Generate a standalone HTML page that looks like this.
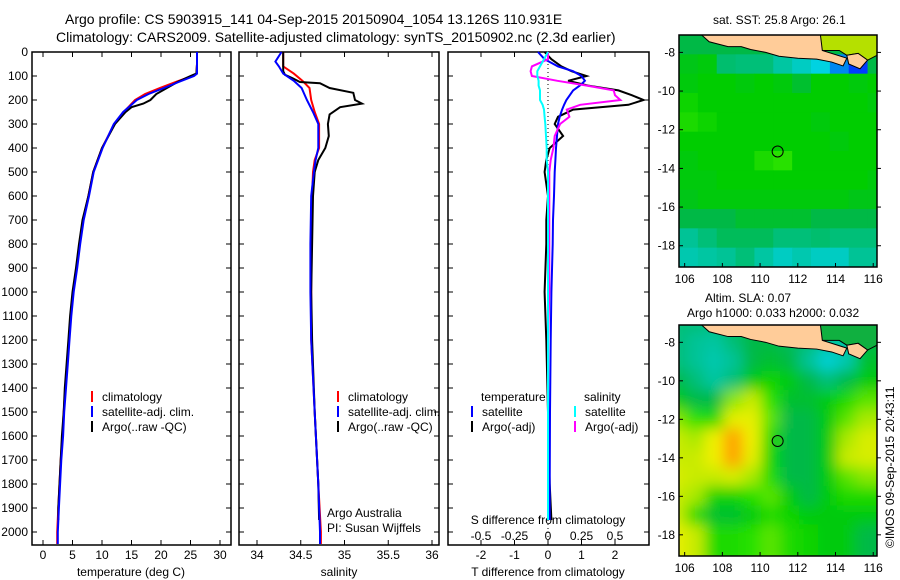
<!DOCTYPE html>
<html><head><meta charset="utf-8"><style>
html,body{margin:0;padding:0;background:#fff}
svg{display:block;font-family:"Liberation Sans",sans-serif}
</style></head><body>
<svg id="c" width="900" height="580" viewBox="0 0 900 580">
<text x="65" y="24" font-size="14">Argo profile: CS 5903915_141 04-Sep-2015 20150904_1054 13.126S 110.931E</text>
<text x="56" y="42" font-size="14">Climatology: CARS2009. Satellite-adjusted climatology: synTS_20150902.nc (2.3d earlier)</text>
<text x="713" y="24" font-size="12">sat. SST: 25.8 Argo: 26.1</text>
<text x="705" y="302" font-size="12">Altim. SLA: 0.07</text>
<text x="687" y="317" font-size="12">Argo h1000: 0.033 h2000: 0.032</text>
<text transform="translate(894,548) rotate(-90)" font-size="12">©IMOS 09-Sep-2015 20:43:11</text>
<g id="g"></g>
</svg>
<script>
// ---- data ----
const tDepth = [0,50,90,100,125,150,175,200,250,300,400,500,600,700,800,900,1000,1100,1200,1300,1400,1500,1600,1700,1800,1900,2000,2050];
const tClim  = [26.1,26.1,26.0,25.3,22.5,19.8,17.3,15.6,13.7,12.1,10.0,8.5,7.7,6.8,6.2,5.7,5.1,4.7,4.4,4.1,3.8,3.5,3.3,3.0,2.8,2.6,2.4,2.4];
const tSat   = [26.1,26.1,26.1,25.6,23.0,20.5,17.9,15.9,13.6,12.0,10.1,8.6,7.8,6.9,6.3,5.8,5.2,4.8,4.5,4.2,3.9,3.6,3.4,3.1,2.9,2.7,2.5,2.5];
const argoDepth = [0,50,90,100,125,150,175,200,215,230,250,300,400,500,600,700,800,900,1000,1100,1200,1300,1400,1500,1600,1700,1800,1900,1950];
const tArgo  = [26.1,26.1,26.0,25.0,22.8,21.0,19.2,18.2,17.0,15.0,14.0,12.2,10.0,8.5,7.7,6.7,6.1,5.6,5.0,4.6,4.3,4.0,3.7,3.5,3.2,3.0,2.8,2.6,2.6];
const sDepth = [0,40,60,90,120,150,200,250,300,400,450,500,600,800,1000,1200,1500,1800,2000,2050];
const sClim  = [34.30,34.30,34.30,34.42,34.52,34.60,34.62,34.66,34.71,34.71,34.66,34.64,34.63,34.62,34.62,34.62,34.66,34.70,34.73,34.73];
const sSat   = [34.28,34.21,34.25,34.30,34.42,34.51,34.57,34.64,34.70,34.70,34.67,34.65,34.62,34.61,34.61,34.62,34.66,34.70,34.72,34.72];
const sArgoDepth = [0,80,95,110,125,130,150,170,200,215,230,260,300,350,400,450,500,600,800,1000,1200,1500,1800,1950];
const sArgo  = [34.30,34.30,34.32,34.41,34.49,34.72,34.83,35.10,35.12,35.20,34.95,34.83,34.81,34.82,34.78,34.70,34.66,34.64,34.63,34.62,34.63,34.66,34.70,34.71];
const dDepth = [0,30,60,80,100,120,140,160,180,200,220,240,270,300,350,400,450,500,600,700,800,1000,1200,1500,1800,1950];
const dTSat  = [-0.3,-0.1,0.3,0.75,1.0,1.1,0.95,0.75,0.65,0.55,0.48,0.42,0.35,0.3,0.27,0.24,0.22,0.2,0.18,0.15,0.14,0.1,0.08,0.06,0.05,0.05];
const dTArgo = [-0.1,0.1,0.4,0.7,1.15,0.6,1.2,2.1,2.5,2.85,2.4,0.75,0.3,0.2,0.45,0.05,-0.05,-0.1,0.0,-0.05,-0.05,-0.1,-0.05,0.0,0.05,0.1];
const dSSat  = [0.0,-0.03,-0.06,-0.08,-0.08,-0.07,-0.07,-0.06,-0.06,-0.06,-0.04,-0.03,-0.025,-0.02,-0.015,-0.01,-0.01,0,0,0,0,0,0,0,0,0];
const dSArgo = [0.0,0.0,-0.12,-0.13,-0.12,0.07,0.29,0.49,0.5,0.54,0.24,0.14,0.16,0.09,0.05,0.04,0.02,0.01,0.01,0.01,0.01,0.01,0.0,0.0,0.0,0.0];
const depthTicks = [0,100,200,300,400,500,600,700,800,900,1000,1100,1200,1300,1400,1500,1600,1700,1800,1900,2000];
const tempTicks = [0,5,10,15,20,25,30];
const salTicks = [34,34.5,35,35.5,36];
const dtTicks = [-2,-1,0,1,2];
const dsTickLabels = ["-0.5","-0.25","0","0.25","0.5"];
const dsTicks = [-0.5,-0.25,0,0.25,0.5];
const lonTicks = [106,108,110,112,114,116];
const latTicks = [-8,-10,-12,-14,-16,-18];
const sstGrid = [
[.50,.50,.50,.50,.50,.50,.50,.50,.50,.50,.65],
[.54,.55,.46,.45,.45,.40,.35,.30,.25,.20,.50],
[.55,.56,.56,.55,.56,.55,.52,.56,.56,.55,.56],
[.58,.56,.56,.56,.56,.56,.56,.56,.56,.56,.55],
[.60,.58,.56,.56,.56,.56,.56,.55,.56,.56,.56],
[.56,.56,.56,.56,.56,.56,.56,.56,.55,.56,.56],
[.55,.56,.56,.56,.60,.62,.56,.56,.56,.56,.56],
[.55,.55,.56,.56,.56,.56,.56,.56,.56,.56,.55],
[.54,.55,.55,.55,.55,.55,.55,.55,.55,.54,.54],
[.50,.50,.50,.52,.52,.52,.52,.50,.50,.50,.50],
[.42,.45,.48,.48,.48,.45,.45,.46,.45,.45,.45],
[.38,.40,.42,.45,.40,.35,.38,.35,.35,.42,.42]];
const slaGrid = [
[.45,.45,.45,.50,.50,.50,.50,.50,.50,.50,.50],
[.45,.42,.40,.45,.50,.50,.48,.45,.40,.40,.50],
[.45,.42,.38,.42,.50,.52,.50,.42,.32,.38,.52],
[.50,.45,.40,.45,.55,.58,.55,.50,.45,.50,.55],
[.55,.50,.50,.68,.72,.62,.52,.52,.55,.60,.65],
[.68,.62,.60,.78,.78,.65,.50,.50,.55,.65,.70],
[.72,.70,.80,.90,.80,.60,.50,.50,.55,.70,.75],
[.72,.72,.80,.90,.78,.58,.50,.50,.55,.72,.75],
[.75,.72,.72,.75,.70,.60,.50,.50,.55,.65,.68],
[.72,.70,.58,.58,.62,.65,.55,.50,.55,.60,.60],
[.72,.60,.52,.52,.55,.60,.58,.55,.55,.55,.55],
[.78,.72,.60,.60,.62,.65,.60,.58,.55,.55,.50]];
const argoLon = 110.931, argoLat = -13.126;

// ---- scales ----
const NS="http://www.w3.org/2000/svg";
const G=document.getElementById('g');
function el(tag,attrs,parent){const e=document.createElementNS(NS,tag);for(const k in attrs)e.setAttribute(k,attrs[k]);(parent||G).appendChild(e);return e;}
const yD = d => 52 + d*0.24;
const xT = t => 43 + t*5.9;
const xS = s => 257 + (s-34)*87.5;
const xDT = t => 548 + t*33.5;
const xDS = s => 548 + s*134;
const PB = 545;
function line(depths, vals, xf, color, w, name){
  const pts = depths.map((d,i)=>xf(vals[i]).toFixed(1)+','+yD(d).toFixed(1)).join(' ');
  const p = el('polyline',{points:pts,fill:'none',stroke:color,'stroke-width':w,'stroke-linejoin':'miter'});
  
  
}
function panel(x0,x1,name){
  const r = el('rect',{x:x0,y:52,width:x1-x0,height:PB-52,fill:'none',stroke:'#000','stroke-width':1.5});
  
  
  depthTicks.forEach(d=>{el('line',{x1:x0,x2:x0+5,y1:yD(d),y2:yD(d),stroke:'#000'});el('line',{x1:x1-5,x2:x1,y1:yD(d),y2:yD(d),stroke:'#000'});});
}
function xticks(vals,labels,xf,labY,name){
  vals.forEach((v,i)=>{
    const x=xf(v);
    el('line',{x1:x,x2:x,y1:PB,y2:PB-5,stroke:'#000'});
    el('line',{x1:x,x2:x,y1:52,y2:57,stroke:'#000'});
    const t=el('text',{x:x,y:labY,'font-size':12,'text-anchor':'middle'});
    t.textContent=labels[i];
    
    
  });
}
panel(32,231,'temperature-panel');
panel(239,439,'salinity-panel');
panel(448,649,'difference-panel');
depthTicks.forEach(d=>{
  const t=el('text',{x:28,y:yD(d)+4,'font-size':12,'text-anchor':'end'});
  t.textContent=d;
  
  
});
xticks(tempTicks,tempTicks.map(String),xT,559,'temp-tick-label');
xticks(salTicks,salTicks.map(String),xS,559,'salinity-tick-label');
xticks(dtTicks,dtTicks.map(String),xDT,559,'t-diff-tick-label');
dsTicks.forEach((v,i)=>{
  const t=el('text',{x:xDS(v),y:540,'font-size':12,'text-anchor':'middle'});
  t.textContent=dsTickLabels[i];
  
  
});
function label(x,y,s,name,anchor){const t=el('text',{x:x,y:y,'font-size':12,'text-anchor':anchor||'start'});t.textContent=s;return t;}
label(131,576,'temperature (deg C)','temp-axis-title','middle');
label(339,576,'salinity','salinity-axis-title','middle');
label(548,576,'T difference from climatology','t-diff-axis-title','middle');
label(548,524,'S difference from climatology','s-diff-axis-title','middle');
label(327,517,'Argo Australia','credit-line-1');
label(327,532,'PI: Susan Wijffels','credit-line-2');
el('line',{x1:548,x2:548,y1:52,y2:PB,stroke:'#000','stroke-dasharray':'1,3'});
line(tDepth,tClim,xT,'#f00',2,'temp-climatology-line');
line(argoDepth,tArgo,xT,'#000',2,'temp-argo-line');
line(tDepth,tSat,xT,'#00f',2,'temp-satellite-line');
line(sDepth,sClim,xS,'#f00',2,'sal-climatology-line');
line(sArgoDepth,sArgo,xS,'#000',2,'sal-argo-line');
line(sDepth,sSat,xS,'#00f',2,'sal-satellite-line');
line(dDepth,dTArgo,xDT,'#000',2,'t-diff-argo-line');
line(dDepth,dTSat,xDT,'#00f',2,'t-diff-satellite-line');
line(dDepth,dSArgo,xDS,'#f0f',2,'s-diff-argo-line');
line(dDepth,dSSat,xDS,'#0ff',2,'s-diff-satellite-line');
function leg(x,y,c,s,name){el('line',{x1:x,x2:x,y1:y-10,y2:y+1,stroke:c,'stroke-width':2});label(x+10,y,s,name);}
[[92,'climatology','#f00'],[92,'satellite-adj. clim.','#00f'],[92,'Argo(..raw -QC)','#000']].forEach((a,i)=>leg(a[0],401+i*15,a[2],a[1],'temp-legend-entry'));
[[338,'climatology','#f00'],[338,'satellite-adj. clim.','#00f'],[338,'Argo(..raw -QC)','#000']].forEach((a,i)=>leg(a[0],401+i*15,a[2],a[1],'sal-legend-entry'));
label(481,401,'temperature','t-legend-title');
label(584,401,'salinity','s-legend-title');
leg(472,416,'#00f','satellite','t-legend-satellite');
leg(472,431,'#000','Argo(-adj)','t-legend-argo');
leg(575,416,'#0ff','satellite','s-legend-satellite');
leg(575,431,'#f0f','Argo(-adj)','s-legend-argo');

// ---- maps ----
const cmapStops=[[0.2,[0,60,255]],[0.3,[0,210,225]],[0.42,[0,195,150]],[0.5,[0,185,70]],[0.56,[0,205,0]],[0.62,[40,225,0]],[0.72,[200,235,0]],[0.8,[240,240,0]],[0.9,[255,160,0]],[1,[255,60,0]]];
function cmap(v){for(let i=1;i<cmapStops.length;i++){const [a,ca]=cmapStops[i-1],[b,cb]=cmapStops[i];if(v<=b){const f=Math.max(0,(v-a)/(b-a));return 'rgb('+ca.map((c,k)=>Math.round(c+(cb[k]-c)*f)).join(',')+')';}}return 'rgb(255,60,0)';}
function map(top,bot,grid,name,blur,eastColor){
  const L=679,R=877,lon0=105.7,lon1=116.2,lat0=-7.1,lat1=-19.1;
  const xL=lon=>L+(lon-lon0)*(R-L)/(lon1-lon0);
  const yL=lat=>top+(lat0-lat)*(bot-top)/(lat0-lat1);
  const clipId='clip'+name;
  const defs=el('defs',{});
  const cp=el('clipPath',{id:clipId},defs);el('rect',{x:L,y:top,width:R-L,height:bot-top},cp);
  if(blur){const f=el('filter',{id:'bl'+name,x:'-10%',y:'-10%',width:'120%',height:'120%'},defs);el('feGaussianBlur',{stdDeviation:7},f);}
  const wrap=el('g',{'clip-path':'url(#'+clipId+')'});
  const cells=el('g',blur?{filter:'url(#bl'+name+')'}:{},wrap);
  grid.forEach((row,r)=>row.forEach((v,c)=>{
    const x=xL(lon0+c),y=yL(lat0-r);
    const cell=el('rect',{x:x-(blur?12:0),y:y-(blur?12:0),width:xL(lon0+c+1)-x+(blur?24:0.5),height:yL(lat0-r-1)-y+(blur?24:0.5),fill:cmap(v)},cells);
    
    
  }));
  const east=[[113.2,-7.1],[116.3,-7.1],[116.3,-8.1],[115.7,-8.4],[115.2,-8.05],[114.6,-8.15],[114.2,-7.9],[113.2,-7.9]];
  const ep=el('polygon',{points:east.map(p=>xL(p[0])+','+yL(p[1])).join(' '),fill:eastColor,stroke:'#000','stroke-width':1},wrap);
  
  
  const land=[[106.9,-7.1],[107.3,-7.45],[108.3,-7.7],[109.0,-7.7],[109.5,-7.85],[110.3,-8.0],[111.0,-8.2],[112.0,-8.3],[113.0,-8.35],[113.8,-8.5],[114.4,-8.7],[114.6,-8.3],[113.3,-7.9],[113.2,-7.1]];
  const lp=el('polygon',{points:land.map(p=>xL(p[0])+','+yL(p[1])).join(' '),fill:'#ffcc99',stroke:'#000','stroke-width':1},wrap);
  
  
  const bali=[[114.6,-8.15],[115.2,-8.05],[115.7,-8.4],[115.3,-8.85],[114.7,-8.6]];
  const bp=el('polygon',{points:bali.map(p=>xL(p[0])+','+yL(p[1])).join(' '),fill:'#ffcc99',stroke:'#000','stroke-width':1},wrap);
  
  
  const fr=el('rect',{x:L,y:top,width:R-L,height:bot-top,fill:'none',stroke:'#000','stroke-width':1.5});
  
  
  lonTicks.forEach(v=>{const x=xL(v);el('line',{x1:x,x2:x,y1:bot,y2:bot-4,stroke:'#000'});label(x,bot+16,String(v),'lon-tick-label','middle');});
  latTicks.forEach(v=>{const y=yL(v);el('line',{x1:L,x2:L+4,y1:y,y2:y,stroke:'#000'});el('line',{x1:R,x2:R+4,y1:y,y2:y,stroke:'#000'});label(L-4,y+4,String(v),'lat-tick-label','end');});
  const c=el('circle',{cx:xL(argoLon),cy:yL(argoLat),r:5.5,fill:blur?'#2c2':'none',stroke:'#000','stroke-width':1});
  
  
}
map(35,267,sstGrid,'sst-map',false,'#b5e000');
map(325,556,slaGrid,'sla-map',true,'#10b040');
</script>
</body></html>
